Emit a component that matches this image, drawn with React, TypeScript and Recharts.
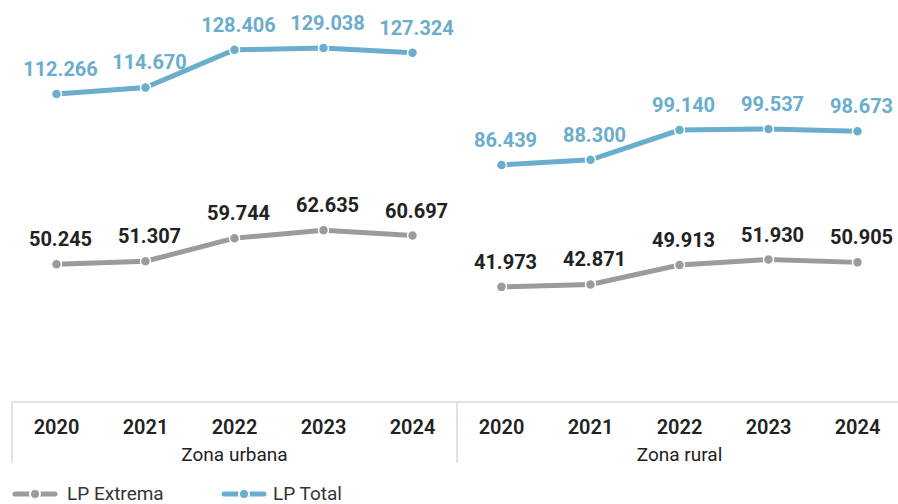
import { LineChart, Line, XAxis, YAxis, LabelList } from 'recharts'

const BLUE = '#6aadcc'
const GRAY = '#9b9b9d'
const FONT = 'Roboto, "Noto Sans", sans-serif'

const years = ['2020', '2021', '2022', '2023', '2024']
const zones = ['Zona urbana', 'Zona rural']

const totalUrbana = [112266, 114670, 128406, 129038, 127324]
const totalRural = [86439, 88300, 99140, 99537, 98673]
const extremaUrbana = [50245, 51307, 59744, 62635, 60697]
const extremaRural = [41973, 42871, 49913, 51930, 50905]

const data = [
  ...years.map((y, i) => ({
    key: `u${y}`,
    year: y,
    zone: zones[0],
    totalU: totalUrbana[i],
    extU: extremaUrbana[i],
    totalR: null as number | null,
    extR: null as number | null,
  })),
  ...years.map((y, i) => ({
    key: `r${y}`,
    year: y,
    zone: zones[1],
    totalU: null as number | null,
    extU: null as number | null,
    totalR: totalRural[i],
    extR: extremaRural[i],
  })),
]

const fmt = (v: number) => {
  const s = String(Math.round(v))
  return s.replace(/\B(?=(\d{3})+(?!\d))/g, '.')
}

const makeLabel = (color: string) => (props: any) => {
  const { x, y, value } = props
  if (value == null || x == null || y == null) return null
  return (
    <text x={x + 4} y={y - 18} textAnchor="middle" fill={color} fontSize={20} fontWeight={700} fontFamily={FONT}>
      {fmt(value)}
    </text>
  )
}

const HALF = 44.5

const YearTick = (props: any) => {
  const { x, y, payload, index } = props
  return (
    <g>
      {(index === 0 || index === 5) && (
        <line x1={x - HALF} x2={x - HALF} y1={y - 8} y2={y + 53} stroke="#d9d9d9" strokeWidth={1.5} />
      )}
      {index === 9 && (
        <line x1={x + HALF} x2={x + HALF} y1={y - 8} y2={y + 53} stroke="#d9d9d9" strokeWidth={1.5} />
      )}
      <text x={x} y={y} dy={24} textAnchor="middle" fill="#222" fontSize={20} fontWeight={600} fontFamily={FONT}>
        {payload.value}
      </text>
    </g>
  )
}

const ZoneTick = (props: any) => {
  const { x, y, payload, index } = props
  if (index !== 2 && index !== 7) return null
  return (
    <text x={x} y={y} dy={11} textAnchor="middle" fill="#222" fontSize={19} fontFamily={FONT}>
      {payload.value}
    </text>
  )
}

const LegendIcon = ({ color }: { color: string }) => (
  <svg width={46} height={12} style={{ display: 'block' }}>
    <line x1={3} x2={43} y1={6} y2={6} stroke={color} strokeWidth={5} strokeLinecap="round" />
    <circle cx={23} cy={6} r={5} fill={color} stroke="#fff" strokeWidth={2} />
  </svg>
)

export default function App() {
  const lineProps = {
    strokeWidth: 5,
    isAnimationActive: false,
    connectNulls: false,
    activeDot: false as const,
  }
  return (
    <div style={{ position: 'absolute', left: 0, top: 0, width: 898, height: 504, overflow: 'hidden', background: '#fff' }}>
      <LineChart width={906} height={504} data={data} margin={{ top: 18, right: 4, left: 12, bottom: 40 }}>
        <XAxis
          dataKey="key"
          tick={(p: any) => <YearTick {...p} payload={{ value: data[p.index]?.year }} />}
          tickLine={false}
          axisLine={{ stroke: '#d9d9d9', strokeWidth: 1.5 }}
          interval={0}
          height={40}
          padding={{ left: HALF, right: HALF }}
        />
        <XAxis
          xAxisId="zone"
          dataKey="key"
          tick={(p: any) => <ZoneTick {...p} payload={{ value: data[p.index]?.zone }} />}
          tickLine={false}
          axisLine={false}
          interval={0}
          height={22}
          padding={{ left: HALF, right: HALF }}
        />
        <YAxis hide domain={[0, 140000]} />
        {[
          { k: 'extU', c: GRAY, lc: '#222' },
          { k: 'extR', c: GRAY, lc: '#222' },
          { k: 'totalU', c: BLUE, lc: BLUE },
          { k: 'totalR', c: BLUE, lc: BLUE },
        ].map((s) => (
          <Line
            key={s.k}
            dataKey={s.k}
            stroke={s.c}
            {...lineProps}
            dot={{ r: 5, fill: s.c, stroke: '#fff', strokeWidth: 1.5 }}
          >
            <LabelList dataKey={s.k} content={makeLabel(s.lc)} />
          </Line>
        ))}
      </LineChart>
      <div style={{ position: 'absolute', left: 12, top: 482, display: 'flex', alignItems: 'center', fontFamily: FONT, fontSize: 19, color: '#333' }}>
        <LegendIcon color={GRAY} />
        <span style={{ marginLeft: 9, width: 154 }}>LP Extrema</span>
        <LegendIcon color={BLUE} />
        <span style={{ marginLeft: 6 }}>LP Total</span>
      </div>
    </div>
  )
}
